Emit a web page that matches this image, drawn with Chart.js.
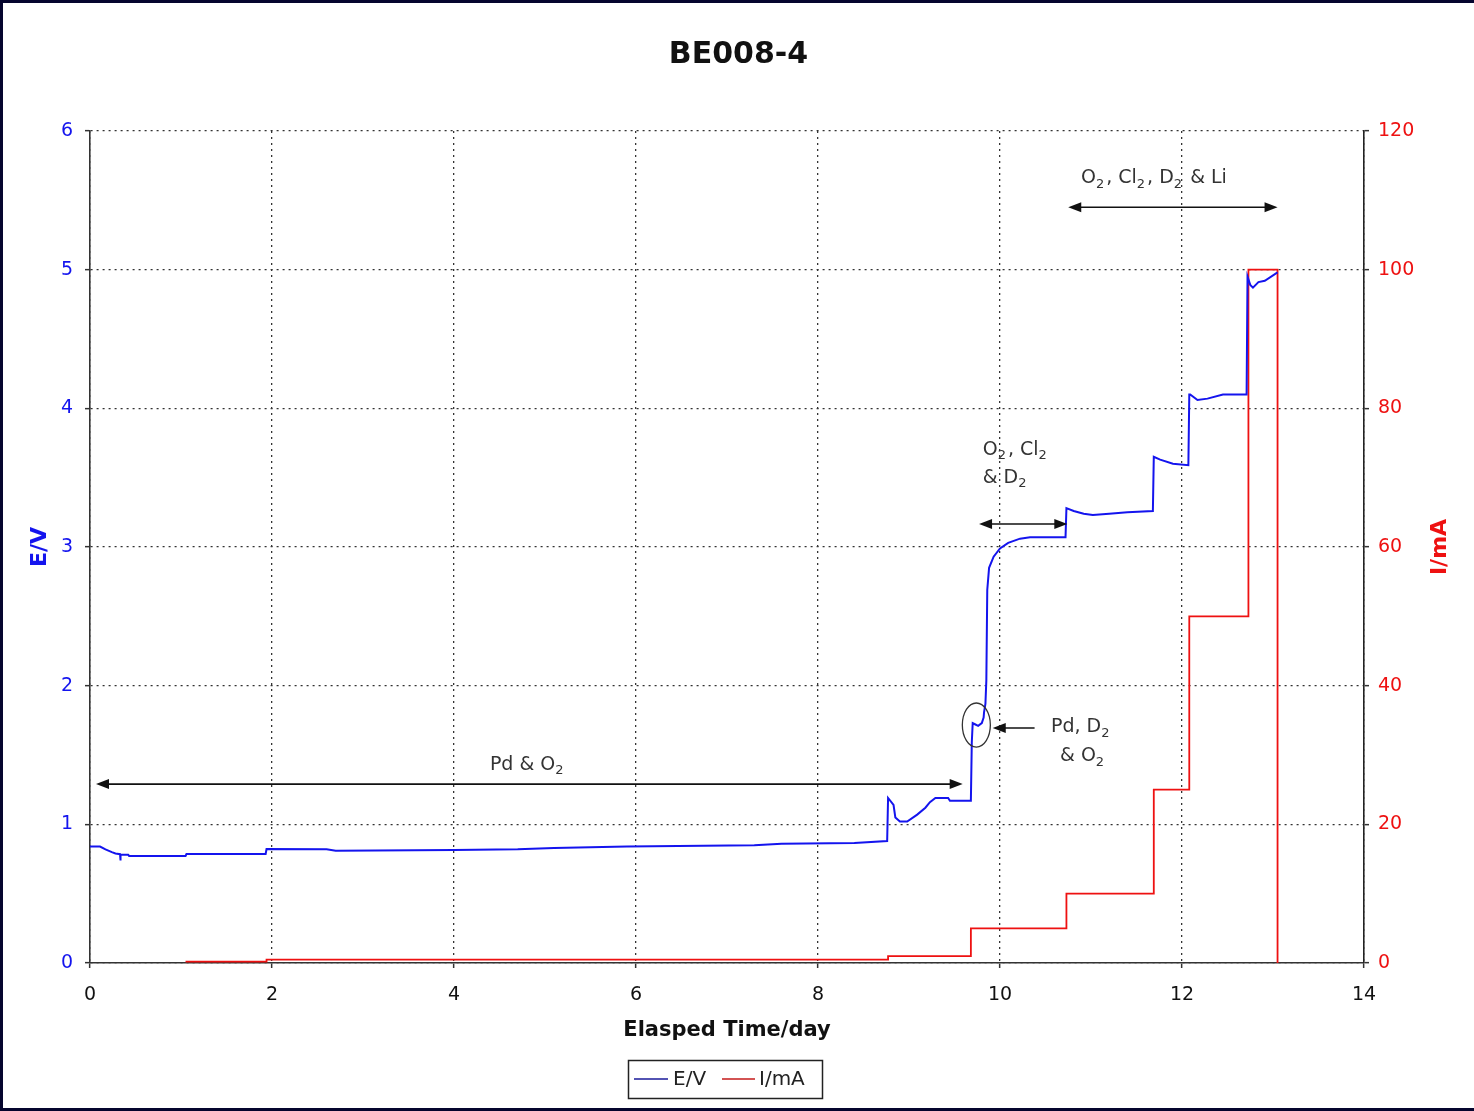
<!DOCTYPE html>
<html lang="en">
<head>
<meta charset="UTF-8">
<title>BE008-4</title>
<script src="https://cdn.jsdelivr.net/npm/chart.js"></script>
<style>
    html, body { margin: 0; padding: 0; background: #fff; }
    #frame {
        position: absolute; left: 0; top: 0; width: 1474px; height: 1111px; box-sizing: border-box;
        border-top: 3px solid #05052e; border-left: 3px solid #05052e; border-bottom: 3px solid #05052e;
        background: #fff;
    }
</style>
</head>
<body>
<div id="frame"><canvas id="chart" width="1471" height="1105"></canvas></div>
<script>
    // E/V trace (days, volts)
    const eDays = [0, 0.11, 0.17, 0.24, 0.28, 0.33, 0.331, 0.34, 0.42, 0.43, 1.05, 1.06, 1.93, 1.94,
        2.6, 2.7, 4.0, 4.7, 5.1, 5.9, 7.3, 7.6, 8.4, 8.76,
        8.77, 8.83, 8.85, 8.9, 8.98, 9.09, 9.18, 9.23, 9.29, 9.43, 9.45, 9.68,
        9.69, 9.7, 9.73, 9.76, 9.8, 9.82, 9.825, 9.84, 9.85, 9.86, 9.88, 9.93, 10.0, 10.09, 10.22, 10.33, 10.72,
        10.73, 10.81, 10.92, 11.02, 11.2, 11.4, 11.68,
        11.69, 11.76, 11.9, 12.07,
        12.08, 12.09, 12.17, 12.28, 12.45, 12.71,
        12.72, 12.75, 12.78, 12.84, 12.91, 13.05];
    const eVolts = [0.84, 0.84, 0.82, 0.80, 0.79, 0.785, 0.74, 0.78, 0.78, 0.772, 0.772, 0.786, 0.786, 0.822,
        0.82, 0.81, 0.815, 0.82, 0.83, 0.84, 0.85, 0.86, 0.865, 0.88,
        1.19, 1.14, 1.05, 1.02, 1.02, 1.07, 1.12, 1.16, 1.19, 1.19, 1.17, 1.17,
        1.59, 1.73, 1.72, 1.71, 1.73, 1.77, 1.81, 1.87, 2.04, 2.69, 2.85, 2.93, 2.99, 3.03, 3.06, 3.07, 3.07,
        3.28, 3.26, 3.24, 3.23, 3.24, 3.25, 3.26,
        3.65, 3.63, 3.60, 3.59,
        4.10, 4.10, 4.06, 4.07, 4.10, 4.10,
        4.95, 4.89, 4.87, 4.91, 4.92, 4.98];

    // I/mA steps (days, mA)
    const iDays = [1.05, 1.94, 1.94, 8.77, 8.77, 9.68, 9.68, 10.73, 10.73, 11.69, 11.69, 12.08, 12.08,
        12.73, 12.73, 13.05, 13.05];
    const iAmps = [0.2, 0.2, 0.5, 0.5, 1, 1, 5, 5, 10, 10, 25, 25, 50, 50, 100, 100, 0];

    const xTicks = [0, 2, 4, 6, 8, 10, 12, 14];
    const vTicks = [0, 1, 2, 3, 4, 5, 6];
    const aTicks = [0, 20, 40, 60, 80, 100, 120];

    // annotations in data units (day, volt)
    const notes = [
        { parts: [['Pd & O', 0], ['2', 1]], x: 4.81, y: 1.43, align: 'center' },
        { parts: [['Pd, D', 0], ['2', 1]], x: 10.56, y: 1.70, align: 'left' },
        { parts: [['& O', 0], ['2', 1]], x: 10.66, y: 1.49, align: 'left' },
        { parts: [['O', 0], ['2', 1], [', Cl', 0], ['2', 1]], x: 9.81, y: 3.70, align: 'left' },
        { parts: [['& D', 0], ['2', 1]], x: 9.81, y: 3.50, align: 'left' },
        { parts: [['O', 0], ['2', 1], [', Cl', 0], ['2', 1], [', D', 0], ['2', 1], [' & Li', 0]], x: 10.89, y: 5.66, align: 'left' }
    ];
    const arrows = [
        { x1: 0.066, x2: 9.59, y: 1.29, both: true },
        { x1: 10.38, x2: 9.92, y: 1.695, both: false },
        { x1: 9.77, x2: 10.74, y: 3.166, both: true },
        { x1: 10.75, x2: 13.05, y: 5.45, both: true }
    ];

    const BLUE = '#1414ee';
    const RED = '#ee1111';
    const FONT = "'DejaVu Sans', Verdana, sans-serif";
    Chart.defaults.font.family = FONT;

    function head(ctx, x, y, dir) {
        ctx.beginPath();
        ctx.moveTo(x, y);
        ctx.lineTo(x - dir * 13, y - 5);
        ctx.lineTo(x - dir * 13, y + 5);
        ctx.closePath();
        ctx.fill();
    }

    function richText(ctx, x, y, parts, align) {
        let w = 0;
        parts.forEach(p => {
            ctx.font = p[1] ? '13px ' + FONT : '19px ' + FONT;
            w += ctx.measureText(p[0]).width + (p[1] ? 2 : 0);
        });
        let cx = align === 'center' ? x - w / 2 : x;
        ctx.textAlign = 'left';
        ctx.textBaseline = 'middle';
        parts.forEach(p => {
            ctx.font = p[1] ? '13px ' + FONT : '19px ' + FONT;
            ctx.fillText(p[0], cx, p[1] ? y + 6 : y);
            cx += ctx.measureText(p[0]).width + (p[1] ? 2 : 0);
        });
    }

    const extras = {
        id: 'extras',
        afterDraw(chart) {
            const ctx = chart.ctx;
            const sx = chart.scales.x, sy = chart.scales.y;
            ctx.save();
            ctx.fillStyle = '#333';
            notes.forEach(n => richText(ctx, sx.getPixelForValue(n.x), sy.getPixelForValue(n.y), n.parts, n.align));

            ctx.strokeStyle = '#111';
            ctx.fillStyle = '#111';
            ctx.lineWidth = 1.6;
            arrows.forEach(a => {
                const x1 = sx.getPixelForValue(a.x1), x2 = sx.getPixelForValue(a.x2), y = sy.getPixelForValue(a.y);
                const d = Math.sign(x2 - x1);
                ctx.beginPath();
                ctx.moveTo(a.both ? x1 + d * 8 : x1, y);
                ctx.lineTo(x2 - d * 8, y);
                ctx.stroke();
                head(ctx, x2, y, d);
                if (a.both) head(ctx, x1, y, -d);
            });

            // circle round the Pd, D2 & O2 feature
            ctx.strokeStyle = '#333';
            ctx.lineWidth = 1.3;
            ctx.beginPath();
            ctx.ellipse(sx.getPixelForValue(9.74), sy.getPixelForValue(1.716),
                sx.getPixelForValue(9.74 + 0.154) - sx.getPixelForValue(9.74),
                sy.getPixelForValue(1.716) - sy.getPixelForValue(1.716 + 0.159), 0, 0, Math.PI * 2);
            ctx.stroke();

            // right axis title, reads bottom to top
            const ca = chart.chartArea;
            ctx.save();
            ctx.translate(1437, (ca.top + ca.bottom) / 2);
            ctx.rotate(-Math.PI / 2);
            ctx.font = 'bold 22px ' + FONT;
            ctx.fillStyle = RED;
            ctx.textAlign = 'center';
            ctx.textBaseline = 'middle';
            ctx.fillText('I/mA', 0, 0);
            ctx.restore();

            // legend
            ctx.strokeStyle = '#222';
            ctx.lineWidth = 1.5;
            ctx.strokeRect(625.5, 1057.5, 194, 38);
            ctx.lineWidth = 1.6;
            ctx.strokeStyle = '#1a1a9a';
            ctx.beginPath(); ctx.moveTo(631, 1076); ctx.lineTo(665, 1076); ctx.stroke();
            ctx.strokeStyle = '#c41a1a';
            ctx.beginPath(); ctx.moveTo(719, 1076); ctx.lineTo(752, 1076); ctx.stroke();
            ctx.fillStyle = '#222';
            ctx.font = '20px ' + FONT;
            ctx.textAlign = 'left';
            ctx.textBaseline = 'middle';
            ctx.fillText('E/V', 670, 1077);
            ctx.fillText('I/mA', 756, 1077);
            ctx.restore();
        }
    };

    const grid = { color: '#333', lineWidth: 1.3, tickLength: 5, tickColor: '#333', tickWidth: 1.5, tickBorderDash: [] };
    const border = { color: '#333', width: 1.6, dash: [2, 4] };

    new Chart(document.getElementById('chart'), {
        type: 'line',
        data: {
            datasets: [
                {
                    label: 'E/V',
                    data: eDays.map((d, i) => ({ x: d, y: eVolts[i] })),
                    borderColor: BLUE,
                    borderWidth: 2,
                    pointRadius: 0,
                    tension: 0,
                    yAxisID: 'y'
                },
                {
                    label: 'I/mA',
                    data: iDays.map((d, i) => ({ x: d, y: iAmps[i] })),
                    borderColor: RED,
                    borderWidth: 1.8,
                    pointRadius: 0,
                    tension: 0,
                    yAxisID: 'y1'
                }
            ]
        },
        options: {
            responsive: false,
            animation: false,
            layout: { padding: { top: 0, left: 0, right: 0, bottom: 55 } },
            plugins: {
                legend: { display: false },
                tooltip: { enabled: false },
                title: {
                    display: true,
                    text: 'BE008-4',
                    color: '#111',
                    font: { size: 30, weight: 'bold' },
                    padding: { top: 34, bottom: 58 }
                }
            },
            scales: {
                x: {
                    type: 'linear',
                    min: 0, max: 14,
                    afterBuildTicks: s => { s.ticks = xTicks.map(v => ({ value: v })); },
                    afterFit: s => { s.height = 90; },
                    ticks: { color: '#111', font: { size: 19 }, padding: 16 },
                    grid: grid,
                    border: border,
                    title: {
                        display: true, text: 'Elasped Time/day', color: '#111',
                        font: { size: 21, weight: 'bold' }, padding: { top: 0, bottom: 10 }
                    }
                },
                y: {
                    position: 'left',
                    min: 0, max: 6,
                    afterBuildTicks: s => { s.ticks = vTicks.map(v => ({ value: v })); },
                    afterFit: s => { s.width = 87; },
                    ticks: { color: BLUE, font: { size: 19 }, padding: 12 },
                    grid: grid,
                    border: border,
                    title: {
                        display: true, text: 'E/V', color: BLUE,
                        font: { size: 22, weight: 'bold' }, padding: { top: 24, bottom: 0 }
                    }
                },
                y1: {
                    position: 'right',
                    min: 0, max: 120,
                    afterBuildTicks: s => { s.ticks = aTicks.map(v => ({ value: v })); },
                    afterFit: s => { s.width = 110; },
                    ticks: { color: RED, font: { size: 19 }, padding: 9 },
                    grid: Object.assign({}, grid, { drawOnChartArea: false }),
                    border: { color: '#222', width: 1.6 }
                }
            }
        },
        plugins: [extras]
    });
</script>
</body>
</html>
